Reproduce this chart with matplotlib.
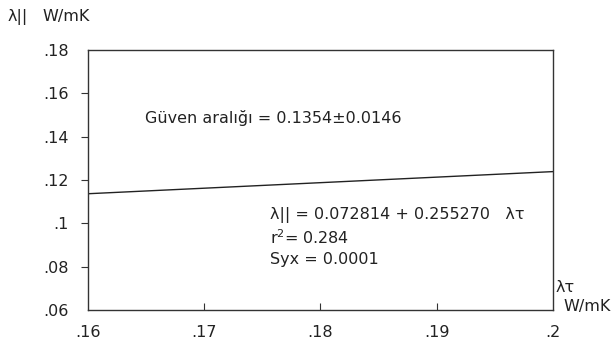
import numpy as np
import matplotlib
matplotlib.use("Agg")
import matplotlib.pyplot as plt

plt.rcParams['font.family'] = ['DejaVu Sans']

# Regression of lambda-parallel on lambda-tau
intercept = 0.072814
slope = 0.255270
r_squared = 0.284
syx = 0.0001
conf_mean = 0.1354
conf_half = 0.0146

x_range = [0.16, 0.2]
x_ticks = [0.16, 0.17, 0.18, 0.19, 0.2]
x_labels = ['.16', '.17', '.18', '.19', '.2']
y_ticks = [0.06, 0.08, 0.10, 0.12, 0.14, 0.16, 0.18]
y_labels = ['.06', '.08', '.1', '.12', '.14', '.16', '.18']

FS = 11.5
TXT = '#222222'

fig = plt.figure(figsize=(6.13, 3.47), dpi=100)
ax = fig.add_axes([0.1436, 0.1066, 0.902 - 0.1436, 0.856 - 0.1066])

xs = np.array(x_range)
ax.plot(xs, intercept + slope * xs, color='#222222', lw=1.0)

ax.set_xlim(x_range)
ax.set_ylim(y_ticks[0], y_ticks[-1])

ax.set_xticks(x_ticks)
ax.set_xticklabels(x_labels)
ax.set_yticks(y_ticks)
ax.set_yticklabels(y_labels)
ax.tick_params(axis='x', direction='in', length=5, width=0.8, color='#333333',
               labelsize=FS, pad=11, labelcolor=TXT)
ax.tick_params(axis='y', direction='out', length=5, width=0.8, color='#333333',
               labelsize=FS, pad=9, labelcolor=TXT)
# hide the tick marks at the axis ends
for t in (ax.xaxis.get_major_ticks()[0], ax.xaxis.get_major_ticks()[-1],
          ax.yaxis.get_major_ticks()[0], ax.yaxis.get_major_ticks()[-1]):
    t.tick1line.set_visible(False)
    t.tick2line.set_visible(False)

for s in ax.spines.values():
    s.set_linewidth(1.0)
    s.set_color('#333333')

ax.text(0.1649, 0.1486, f'Güven aralığı = {conf_mean:.4f}±{conf_half:.4f}',
        fontsize=FS, color=TXT, va='center', ha='left')

ax.text(0.1757, 0.1038, f'λ|| = {intercept:.6f} + {slope:.6f}   λτ',
        fontsize=FS, color=TXT, va='center', ha='left')
ax.text(0.1757, 0.0934, f'r$^2$= {r_squared:.3f}',
        fontsize=FS, color=TXT, va='center', ha='left')
ax.text(0.1757, 0.0831, f'Syx = {syx:.4f}',
        fontsize=FS, color=TXT, va='center', ha='left')

# axis unit captions
fig.text(8 / 613, 1 - 17 / 347, 'λ||', fontsize=FS, color=TXT,
         va='center', ha='left')
fig.text(42 / 613, 1 - 17 / 347, 'W/mK', fontsize=FS, color=TXT,
         va='center', ha='left')
fig.text(556 / 613, 1 - 287 / 347, 'λτ', fontsize=FS, color=TXT,
         va='center', ha='left')
fig.text(563 / 613, 1 - 307 / 347, 'W/mK', fontsize=FS, color=TXT,
         va='center', ha='left')

fig.savefig('out.png', dpi=100, facecolor='white')
